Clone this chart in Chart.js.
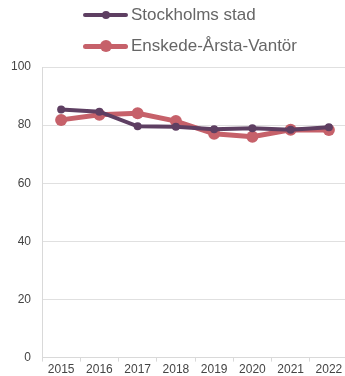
<!DOCTYPE html>
<html>
<head>
<meta charset="utf-8">
<script src="https://cdn.jsdelivr.net/npm/chart.js@4/dist/chart.umd.min.js"></script>
<style>
  html, body { margin: 0; padding: 0; background: #fff; overflow: hidden; }
  #wrap { position: relative; width: 345px; height: 376px; overflow: hidden; }
  #legend { position: absolute; left: 83px; top: 0; font-family: "Liberation Sans", Arial, sans-serif; font-size: 17px; color: #666; }
  .item { display: flex; align-items: center; height: 30px; }
  .item + .item { height: 32px; }
  .swatch { position: relative; width: 45px; margin-right: 3px; }
  .swatch .ln { position: absolute; left: 0; right: 0; top: 50%; border-radius: 3px; }
  .swatch .dot { position: absolute; left: 50%; top: 50%; border-radius: 50%; transform: translate(-50%, -50%); }
</style>
</head>
<body>
<div id="wrap">
  <canvas id="chart-display" width="354" height="376"></canvas>
  <div id="legend"></div>
</div>
<script>
var years = ['2015', '2016', '2017', '2018', '2019', '2020', '2021', '2022'];
var stockholm = [85.4, 84.6, 79.6, 79.4, 78.6, 78.9, 78.4, 79.3];
var enskede = [81.8, 83.6, 84.1, 81.4, 77.0, 76.0, 78.4, 78.3];
var yTicks = [0, 20, 40, 60, 80, 100];

var purple = '#5e3f62';
var rose = '#c6616a';

var series = [
    { label: 'Stockholms stad', data: stockholm, color: purple, width: 4, radius: 4 },
    { label: 'Enskede-Årsta-Vantör', data: enskede, color: rose, width: 5, radius: 6 }
];

// legend drawn as html, one item per row
var legend = document.getElementById('legend');
series.forEach(function(s) {
    var item = document.createElement('div');
    item.className = 'item';
    item.innerHTML = '<span class="swatch"><span class="ln" style="height:' + s.width + 'px;margin-top:-' + (s.width / 2) + 'px;background:' + s.color + '"></span>' +
        '<span class="dot" style="width:' + (s.radius * 2) + 'px;height:' + (s.radius * 2) + 'px;background:' + s.color + '"></span></span>' +
        '<span>' + s.label + '</span>';
    legend.appendChild(item);
});

var ctx = document.getElementById('chart-display');

new Chart(ctx, {
    type: 'line',
    data: {
        labels: years,
        datasets: series.map(function(s) {
            return {
                label: s.label,
                data: s.data,
                borderColor: s.color,
                backgroundColor: s.color,
                borderWidth: s.width,
                pointRadius: s.radius,
                pointBorderWidth: 0,
                tension: 0
            };
        })
    },
    options: {
        responsive: false,
        animation: false,
        layout: { padding: { top: 67, right: 0, left: 0, bottom: -2 } },
        plugins: {
            legend: { display: false },
            tooltip: { enabled: false }
        },
        scales: {
            x: {
                offset: true,
                grid: { offset: true, drawOnChartArea: false, color: '#d9d9d9', tickLength: 4 },
                border: { color: '#d9d9d9' },
                ticks: { color: '#444', font: { family: 'Liberation Sans', size: 12 }, padding: 1, maxRotation: 0 }
            },
            y: {
                min: 0,
                max: 100,
                afterBuildTicks: function(axis) {
                    axis.ticks = yTicks.map(function(v) { return { value: v }; });
                },
                grid: { color: '#e0e0e0', drawTicks: false },
                border: { color: '#d9d9d9' },
                ticks: { color: '#444', font: { family: 'Liberation Sans', size: 12 }, padding: 11 }
            }
        }
    }
});
</script>
</body>
</html>
